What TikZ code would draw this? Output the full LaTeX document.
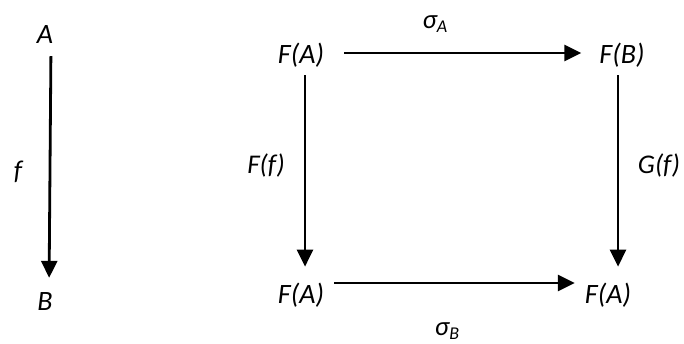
\documentclass[tikz,border=0pt]{standalone}
\usepackage{fontspec}
\setmainfont{Carlito}
\usepackage{tikz}
\usetikzlibrary{arrows.meta,positioning}

\begin{document}
\begin{tikzpicture}[
    x=1pt, y=-1pt,
    obj/.style={inner sep=0pt, font=\fontsize{28}{32}\selectfont\itshape},
    lbl/.style={inner sep=0pt, font=\fontsize{27}{31}\selectfont\itshape},
    arrow/.style={-{Triangle[length=17pt,width=16pt]}, line width=2.8pt}
]
\useasboundingbox (0,0) rectangle (684,343);

% Nodes
\node (a) [obj] at (45,35) {A};
\node (b) [obj] at (45,302) {B};
\node (fa) [obj] at (301,55) {F(A)};
\node (fb) [obj] at (622,55) {F(B)};
\node (fa2) [obj] at (301,295) {F(A)};
\node (fa3) [obj] at (608,295) {F(A)};

% Arrows
\draw [arrow, shorten <=12pt, shorten >=15pt] ([xshift=6pt]a.south) -- ([xshift=4pt]b.north);
\draw [arrow, shorten <=20pt, shorten >=18pt] ([yshift=2pt]fa.east) -- ([yshift=2pt]fb.west);
\draw [arrow, shorten <=8pt, shorten >=16pt] ([xshift=4pt]fa.south) -- ([xshift=4pt]fa2.north);
\draw [arrow, shorten <=8pt, shorten >=16pt] ([xshift=-4pt]fb.south) -- ([xshift=10pt]fa3.north);
\draw [arrow, shorten <=10pt, shorten >=10pt] ([yshift=12pt]fa2.east) -- ([yshift=12pt]fa3.west);

% Labels
\node (f) [lbl] at (18,172) {f};
\node (ff) [lbl] at (266,165) {F(f)};
\node (gf) [lbl] at (659,165) {G(f)};
\node (sa) [lbl] at (435,24) {σ\raisebox{-0.35ex}{\fontsize{18}{20}\selectfont A}};
\node (sb) [lbl] at (447,331) {σ\raisebox{-0.35ex}{\fontsize{18}{20}\selectfont B}};

\end{tikzpicture}
\end{document}
